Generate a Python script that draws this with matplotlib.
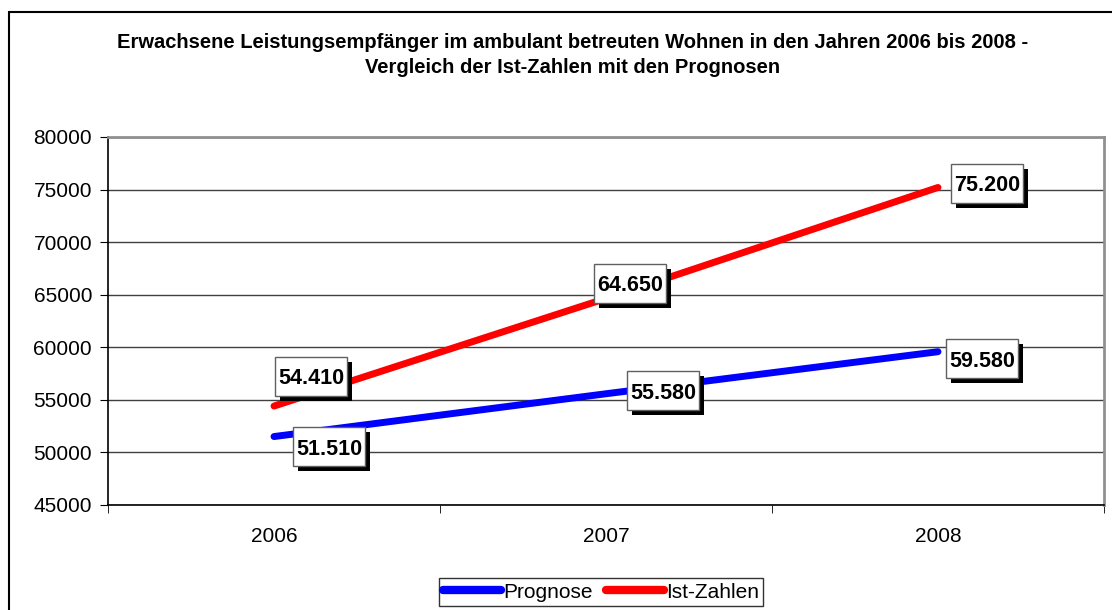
import matplotlib.pyplot as plt
from matplotlib.patches import Rectangle
from matplotlib.transforms import IdentityTransform

plt.rcParams["font.family"] = ["Liberation Sans", "DejaVu Sans"]

years = ["2006", "2007", "2008"]
prognose = [51510, 55580, 59580]
ist_zahlen = [54410, 64650, 75200]

# label box offsets from the data point, in pixels (placed by hand in the original)
prognose_offsets = [(55, -10), (57, 3), (44, -7)]
ist_offsets = [(37, 30), (24, 15), (49, 4)]

title = ("Erwachsene Leistungsempfänger im ambulant betreuten Wohnen in den Jahren 2006 bis 2008 -\n"
         "Vergleich der Ist-Zahlen mit den Prognosen")

BOX_W, BOX_H, SHADOW = 72, 39, 5


def fmt_de(v):
    return f"{v:,}".replace(",", ".")


def add_label(fig, ax, x, y, text, offset):
    dx, dy = offset
    px, py = ax.transData.transform((x, y))
    cx, cy = px + dx, py + dy
    # shadow box, then the white box, then the text
    fig.patches.append(Rectangle((cx - BOX_W / 2 + SHADOW, cy - BOX_H / 2 - SHADOW), BOX_W, BOX_H,
                                 transform=IdentityTransform(), fc="black", ec="black", lw=0, zorder=5))
    fig.patches.append(Rectangle((cx - BOX_W / 2, cy - BOX_H / 2), BOX_W, BOX_H,
                                 transform=IdentityTransform(), fc="white", ec="#606060", lw=1, zorder=6))
    fig.text(cx, cy, text, transform=IdentityTransform(), ha="center", va="center_baseline",
             fontsize=15.5, fontweight="bold", color="black", zorder=7)


fig = plt.figure(figsize=(11.12, 6.10), dpi=100)
ax = fig.add_axes([108 / 1112, 1 - 505 / 610, 996 / 1112, 368 / 610])

x = list(range(len(years)))
ax.plot(x, prognose, color="#0000FF", lw=5, solid_capstyle="round", label="Prognose", zorder=4)
ax.plot(x, ist_zahlen, color="#FF0000", lw=5, solid_capstyle="round", label="Ist-Zahlen", zorder=4)

ax.set_xlim(-0.5, len(years) - 0.5)
ax.set_ylim(45000, 80000)
ax.set_yticks(range(45000, 80001, 5000))
ax.yaxis.grid(True, color="#404040", lw=1)
ax.set_axisbelow(True)

ax.set_xticks(x)
ax.set_xticklabels(years)
ax.set_xticks([i + 0.5 for i in range(-1, len(years))], minor=True)
ax.tick_params(axis="x", which="major", length=0, pad=15.5, labelsize=15)
ax.tick_params(axis="x", which="minor", length=6, direction="out", color="black")
ax.tick_params(axis="y", length=6, direction="out", pad=5.5, labelsize=15)

for side in ["left", "bottom"]:
    ax.spines[side].set_color("black")
    ax.spines[side].set_linewidth(1.2)
for side in ["top", "right"]:
    ax.spines[side].set_color("#909090")
    ax.spines[side].set_linewidth(2)

for i in x:
    add_label(fig, ax, i, prognose[i], fmt_de(prognose[i]), prognose_offsets[i])
    add_label(fig, ax, i, ist_zahlen[i], fmt_de(ist_zahlen[i]), ist_offsets[i])

fig.text(573 / 1112, 1 - 55 / 610, title, ha="center", va="center",
         fontsize=14.5, fontweight="bold", linespacing=1.45)

leg = fig.legend(loc="center", bbox_to_anchor=(601 / 1112, 1 - 592 / 610), ncol=2,
                 fontsize=15, frameon=True, fancybox=False, handlelength=2.8,
                 handletextpad=0.1, columnspacing=0.6, borderpad=0.2, borderaxespad=0)
leg.get_frame().set_edgecolor("black")
leg.get_frame().set_linewidth(1)
for line in leg.get_lines():
    line.set_linewidth(6)

fig.patches.append(Rectangle((9 / 1112, -0.1), 1.2, 1 - 12 / 610 + 0.1,
                             transform=fig.transFigure, fill=False, ec="black", lw=1.5))

fig.savefig("out.png", dpi=100)
